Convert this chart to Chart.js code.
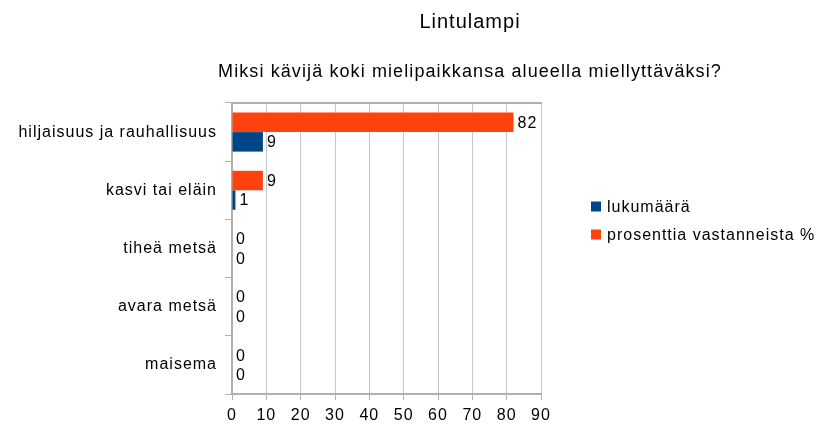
<!DOCTYPE html>
<html>
<head>
<meta charset="utf-8">
<script src="https://cdn.jsdelivr.net/npm/chart.js@4.4.0/dist/chart.umd.min.js"></script>
<style>
  body { margin: 0; background: #fff; }
  #wrap { position: relative; width: 823px; height: 430px; overflow: hidden; }
  .ttl {
    position: absolute; left: 0; width: 940px; text-align: center;
    font-family: "Liberation Sans", Arial, sans-serif; color: #000;
    letter-spacing: 1px; white-space: nowrap; z-index: 2;
  }
  #t1 { top: 10px; font-size: 20px; }
  #t2 { top: 61px; font-size: 18px; letter-spacing: 1.1px; }
  canvas { position: absolute; left: 0; top: 0; }
</style>
</head>
<body>
<div id="wrap">
  <div class="ttl" id="t1">Lintulampi</div>
  <div class="ttl" id="t2">Miksi kävijä koki mielipaikkansa alueella miellyttäväksi?</div>
  <canvas id="chart" width="823" height="430"></canvas>
</div>
<script>
// data
const categories = ['hiljaisuus ja rauhallisuus', 'kasvi tai eläin', 'tiheä metsä', 'avara metsä', 'maisema'];
const seriesNames = ['lukumäärä', 'prosenttia vastanneista %'];
const lukumaara = [9, 1, 0, 0, 0];
const prosenttia = [82, 9, 0, 0, 0];
const xMin = 0, xMax = 90, xStep = 10;

Chart.defaults.font.family = '"Liberation Sans", Arial, sans-serif';
Chart.defaults.font.size = 16;
Chart.defaults.color = '#000';

// the original rendering has a little extra space between letters
const spacing = {
    id: 'spacing',
    beforeUpdate(chart) { chart.ctx.letterSpacing = '1px'; },
    beforeDraw(chart) { chart.ctx.letterSpacing = '1px'; }
};

// numbers at the end of each bar
const valueLabels = {
    id: 'valueLabels',
    afterDatasetsDraw(chart) {
        const ctx = chart.ctx;
        ctx.save();
        ctx.font = '16px "Liberation Sans", Arial, sans-serif';
        ctx.fillStyle = '#000';
        ctx.textAlign = 'left';
        ctx.textBaseline = 'middle';
        chart.data.datasets.forEach((ds, i) => {
            chart.getDatasetMeta(i).data.forEach((bar, j) => {
                const p = bar.getProps(['x', 'y'], true);
                ctx.fillText(String(ds.data[j]), p.x + 4, p.y + 1);
            });
        });
        ctx.restore();
    }
};

// legend to the right of the plot, lukumäärä listed first like in the original
// (the built in one gets squeezed to a narrow column and cuts the long label)
const sideLegend = {
    id: 'sideLegend',
    afterDraw(chart) {
        const ctx = chart.ctx;
        const area = chart.chartArea;
        const x = area.right + 50;
        let y = (area.top + area.bottom) / 2 - 42;
        ctx.save();
        ctx.font = '16px "Liberation Sans", Arial, sans-serif';
        ctx.textAlign = 'left';
        ctx.textBaseline = 'middle';
        [1, 0].forEach(i => {
            const ds = chart.data.datasets[i];
            ctx.fillStyle = ds.backgroundColor;
            ctx.fillRect(x, y - 5, 10, 10);
            ctx.fillStyle = '#000';
            ctx.fillText(ds.label, x + 16, y + 1);
            y += 28;
        });
        ctx.restore();
    }
};

const gridGrey = '#c8c8c8';
const axisGrey = '#b0b0b0';

new Chart(document.getElementById('chart').getContext('2d'), {
    type: 'bar',
    data: {
        labels: categories,
        datasets: [
            // orange first so it sits on top in each group
            { label: seriesNames[1], data: prosenttia, backgroundColor: '#ff420e', borderWidth: 0 },
            { label: seriesNames[0], data: lukumaara, backgroundColor: '#004586', borderWidth: 0 }
        ]
    },
    options: {
        indexAxis: 'y',
        responsive: false,
        animation: false,
        layout: { padding: { left: 15, top: 16, right: 0, bottom: 0 } },
        datasets: { bar: { categoryPercentage: 0.67, barPercentage: 1 } },
        plugins: {
            title: { display: false },
            tooltip: { enabled: false },
            legend: { display: false }
        },
        scales: {
            x: {
                min: xMin, max: xMax,
                ticks: { stepSize: xStep, color: '#000', padding: 6 },
                grid: { color: gridGrey, tickLength: 6, tickColor: axisGrey },
                border: { color: axisGrey, width: 2 },
                afterFit(s) { s.height = 36; }
            },
            x2: {
                position: 'top', type: 'linear', min: xMin, max: xMax,
                ticks: { display: false },
                grid: { display: false },
                border: { color: axisGrey, width: 2 },
                afterFit(s) { s.height = 87; }
            },
            y: {
                ticks: { color: '#000', padding: 8 },
                grid: { drawOnChartArea: false, tickLength: 7, color: axisGrey },
                border: { color: axisGrey, width: 2 },
                afterFit(s) { s.width = 217; }
            },
            // empty strip that holds the legend space on the right
            y2: {
                position: 'right', type: 'category',
                ticks: { display: false },
                grid: { display: false },
                border: { display: false },
                afterFit(s) { s.width = 282; }
            }
        }
    },
    plugins: [spacing, valueLabels, sideLegend]
});
</script>
</body>
</html>
